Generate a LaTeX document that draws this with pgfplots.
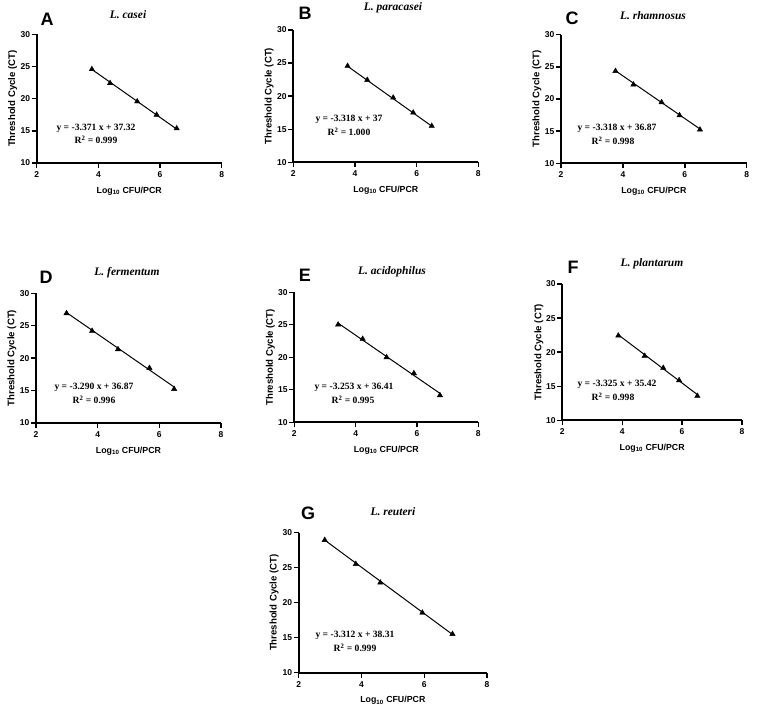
\documentclass[border=0pt]{standalone}
\usepackage{fontspec}
\setmainfont{Liberation Sans}
\newfontfamily\serif{Liberation Serif}
\usepackage{pgfplots}
\pgfplotsset{compat=1.18}
\pgfplotsset{
  panel/.style={
    scale only axis,
    axis lines=left,
    axis line style={-, line width=1.7pt},
    xmin=2, xmax=8, ymin=10, ymax=30,
    xtick={2,4,6,8}, ytick={10,15,20,25,30},
    tick align=outside,
    major tick length=5pt,
    tick style={black, line width=1.4pt},
    /pgf/number format/assume math mode=true,
    ticklabel style={font=\bfseries\fontsize{8.5}{9}\selectfont},
    yticklabel style={inner sep=1.5pt},
    xlabel={Log\textsubscript{10} CFU/PCR},
    ylabel={Threshold Cycle (CT)},
    xlabel style={font=\bfseries\fontsize{8.8}{10}\selectfont, at={(axis description cs:0.5,0)}, anchor=center, yshift=-28pt},
    ylabel style={font=\bfseries\fontsize{9.6}{10}\selectfont, at={(axis description cs:-0.13,0.5)}, anchor=center},
    clip=false,
    anchor=south west,
  },
  pts/.style={only marks, mark=triangle*, mark size=3.1pt, black},
  fitl/.style={black, line width=1pt, no marks},
}
\newcommand{\plet}[2]{\node[font=\bfseries\fontsize{18}{20}\selectfont] at #1 {#2};}
\newcommand{\ptit}[2]{\node[font=\serif\bfseries\itshape\fontsize{11.5}{13}\selectfont] at #1 {#2};}
\newcommand{\peq}[2]{\node[font=\serif\bfseries\fontsize{9.6}{11}\selectfont] at #1 {#2};}
\begin{document}
\begin{tikzpicture}
\useasboundingbox (0,0) rectangle (764pt,716pt);
% A
\begin{axis}[panel, at={(36.7pt,553pt)}, width=185pt, height=128.7pt]
\addplot[fitl] coordinates {(3.79,24.54) (6.54,15.27)};
\addplot[pts] coordinates {(3.79,24.57) (4.38,22.40) (5.26,19.56) (5.89,17.49) (6.54,15.37)};
\end{axis}
\plet{(47pt,697pt)}{A}
\ptit{(128pt,701pt)}{L. casei}
\peq{(96pt,588pt)}{y = -3.371 x + 37.32}
\peq{(96pt,576pt)}{R\textsuperscript{2} = 0.999}
% B
\begin{axis}[panel, at={(293.3pt,553.7pt)}, width=185pt, height=132.3pt]
\addplot[fitl] coordinates {(3.76,24.52) (6.49,15.47)};
\addplot[pts] coordinates {(3.76,24.56) (4.40,22.44) (5.24,19.77) (5.89,17.50) (6.49,15.49)};
\end{axis}
\plet{(305pt,703pt)}{B}
\ptit{(393pt,708pt)}{L. paracasei}
\peq{(349pt,597pt)}{y = -3.318 x + 37}
\peq{(349pt,584pt)}{R\textsuperscript{2} = 1.000}
% C
\begin{axis}[panel, at={(561pt,552.7pt)}, width=185.7pt, height=128.6pt]
\addplot[fitl] coordinates {(3.76,24.39) (6.49,15.34)};
\addplot[pts] coordinates {(3.76,24.35) (4.34,22.23) (5.25,19.48) (5.83,17.46) (6.49,15.23)};
\end{axis}
\plet{(572pt,698pt)}{C}
\ptit{(653pt,700pt)}{L. rhamnosus}
\peq{(617pt,588pt)}{y = -3.318 x + 36.87}
\peq{(613pt,575pt)}{R\textsuperscript{2} = 0.998}
% D
\begin{axis}[panel, at={(36pt,293pt)}, width=185pt, height=129.7pt]
\addplot[fitl] coordinates {(2.99,27.03) (6.48,15.55)};
\addplot[pts] coordinates {(2.99,26.92) (3.82,24.19) (4.66,21.36) (5.68,18.48) (6.48,15.24)};
\end{axis}
\plet{(46pt,439pt)}{D}
\ptit{(127pt,443pt)}{L. fermentum}
\peq{(94pt,329pt)}{y = -3.290 x + 36.87}
\peq{(94pt,316pt)}{R\textsuperscript{2} = 0.996}
% E
\begin{axis}[panel, at={(294.3pt,293.7pt)}, width=184pt, height=130pt]
\addplot[fitl] coordinates {(3.43,25.25) (6.75,14.45)};
\addplot[pts] coordinates {(3.43,25.03) (4.23,22.82) (5.01,20.00) (5.90,17.54) (6.75,14.15)};
\end{axis}
\plet{(305pt,441pt)}{E}
\ptit{(392pt,444pt)}{L. acidophilus}
\peq{(354pt,329pt)}{y = -3.253 x + 36.41}
\peq{(353pt,316pt)}{R\textsuperscript{2} = 0.995}
% F
\begin{axis}[panel, at={(562.3pt,295.7pt)}, width=179.7pt, height=136.3pt]
\addplot[fitl] coordinates {(3.87,22.55) (6.51,13.77)};
\addplot[pts] coordinates {(3.87,22.42) (4.75,19.44) (5.37,17.68) (5.90,15.87) (6.51,13.57)};
\end{axis}
\plet{(573pt,449pt)}{F}
\ptit{(652pt,452pt)}{L. plantarum}
\peq{(617pt,332pt)}{y = -3.325 x + 35.42}
\peq{(613pt,319pt)}{R\textsuperscript{2} = 0.998}
% G
\begin{axis}[panel, at={(298.7pt,43.3pt)}, width=188.3pt, height=140pt]
\addplot[fitl] coordinates {(2.83,28.94) (6.90,15.46)};
\addplot[pts] coordinates {(2.83,28.95) (3.82,25.52) (4.60,22.86) (5.94,18.57) (6.90,15.52)};
\end{axis}
\plet{(308pt,203pt)}{G}
\ptit{(393pt,204pt)}{L. reuteri}
\peq{(355pt,81pt)}{y = -3.312 x + 38.31}
\peq{(355pt,68pt)}{R\textsuperscript{2} = 0.999}
\end{tikzpicture}
\end{document}
